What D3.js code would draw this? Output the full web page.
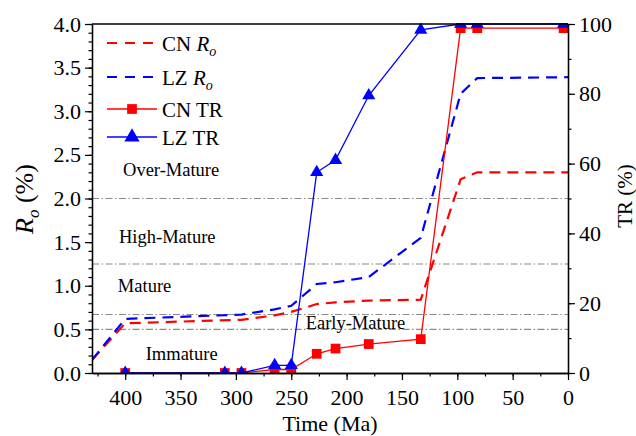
<!DOCTYPE html>
<html>
<head>
<meta charset="utf-8">
<script src="https://cdn.jsdelivr.net/npm/d3@7/dist/d3.min.js"></script>
<style>
  html, body { margin: 0; padding: 0; background: #fff; }
  svg { display: block; }
  text { font-family: "Liberation Serif", "Times New Roman", serif; fill: #000; }
</style>
</head>
<body>
<svg id="chart" width="636" height="436"></svg>
<script>
// Vitrinite reflectance (Ro, %) through time for the two wells
const roTimes = [430, 400, 295, 265, 250, 227, 210, 180, 133, 97, 82, 0];
const cnRo    = [0.15, 0.57, 0.61, 0.66, 0.70, 0.79, 0.81, 0.83, 0.84, 2.22, 2.30, 2.30];
const lzRo    = [0.15, 0.62, 0.67, 0.73, 0.77, 1.02, 1.04, 1.10, 1.55, 3.20, 3.38, 3.39];

// Transformation ratio (TR, %) at the modelled time steps
const trTimes = [400, 310, 295, 265, 250, 227, 210, 180, 133, 97, 82, 4];
const cnTR    = [0, 0, 0, 1, 1, 5.5, 7, 8.3, 9.7, 98.8, 98.8, 98.8];
const lzTR    = [0, 0, 0, 2.2, 2.2, 57.5, 61, 79.5, 98.3, 100, 100, 100];

// Maturity zone boundaries (Ro, %) and zone names with their label anchors (Ma, Ro)
const zoneBounds = [0.5, 0.67, 1.25, 2.0];
const zoneNames  = ["Immature", "Early-Mature", "Mature", "High-Mature", "Over-Mature"];
const zoneLabelAt = [[349, 0.15], [192, 0.50], [382.5, 0.93], [362, 1.49], [358.5, 2.26]];

// Axis ticks
const timeTicks = [400, 350, 300, 250, 200, 150, 100, 50, 0];
const roTicks   = [0, 0.5, 1.0, 1.5, 2.0, 2.5, 3.0, 3.5, 4.0];
const trTicks   = [0, 20, 40, 60, 80, 100];

const svg = d3.select("#chart");
const L = 92, R = 568, T = 24, B = 373;

const x  = d3.scaleLinear().domain([430, 0]).range([L, R]);
const y  = d3.scaleLinear().domain([0, 4]).range([B, T]);
const yT = d3.scaleLinear().domain([0, 100]).range([B, T]);

svg.append("defs").append("clipPath").attr("id", "plotClip")
  .append("rect").attr("x", L).attr("y", T - 1).attr("width", R - L).attr("height", B - T + 1);

// zone boundary lines
svg.append("g").selectAll("line").data(zoneBounds).join("line")
  .attr("x1", L).attr("x2", R)
  .attr("y1", d => y(d)).attr("y2", d => y(d))
  .attr("stroke", "#8a8a8a").attr("stroke-width", 1.1)
  .attr("stroke-dasharray", "7,2.5,1.5,2.5");

// zone labels
svg.append("g").selectAll("text").data(zoneNames).join("text")
  .attr("x", (d, i) => x(zoneLabelAt[i][0]))
  .attr("y", (d, i) => y(zoneLabelAt[i][1]))
  .attr("text-anchor", "middle")
  .attr("font-size", 18.5)
  .text(d => d);

const plot = svg.append("g").attr("clip-path", "url(#plotClip)");

const roLine = (vals) => d3.line().x((d, i) => x(roTimes[i])).y(d => y(d))(vals);
const trLine = (vals) => d3.line().x((d, i) => x(trTimes[i])).y(d => yT(d))(vals);

plot.append("path").attr("d", roLine(cnRo)).attr("fill", "none")
  .attr("stroke", "#ff0000").attr("stroke-width", 2.2).attr("stroke-dasharray", "11,7");
plot.append("path").attr("d", roLine(lzRo)).attr("fill", "none")
  .attr("stroke", "#0000ff").attr("stroke-width", 2.2).attr("stroke-dasharray", "11,7");

plot.append("path").attr("d", trLine(cnTR)).attr("fill", "none")
  .attr("stroke", "#ff0000").attr("stroke-width", 1.3);
const sq = d3.symbol().type(d3.symbolSquare).size(95);
plot.append("g").selectAll("path").data(cnTR).join("path")
  .attr("transform", (d, i) => `translate(${x(trTimes[i])},${yT(d)})`)
  .attr("d", sq).attr("fill", "#ff0000");

plot.append("path").attr("d", trLine(lzTR)).attr("fill", "none")
  .attr("stroke", "#0000ff").attr("stroke-width", 1.3);
const tri = d3.symbol().type(d3.symbolTriangle).size(75);
plot.append("g").selectAll("path").data(lzTR).join("path")
  .attr("transform", (d, i) => `translate(${x(trTimes[i])},${yT(d)})`)
  .attr("d", tri).attr("fill", "#0000ff");

// frame
svg.append("line").attr("x1", L).attr("x2", R).attr("y1", T).attr("y2", T)
  .attr("stroke", "#000").attr("stroke-width", 1.3);

// axes
function styleAxis(g) {
  g.selectAll(".domain").attr("stroke", "#000").attr("stroke-width", 1.3);
  g.selectAll(".tick line").attr("stroke", "#000").attr("stroke-width", 1.2);
  g.selectAll("text").attr("font-family", "Liberation Serif, Times New Roman, serif").attr("fill", "#000");
}

// bottom
svg.append("g").attr("transform", `translate(0,${B})`)
  .call(d3.axisBottom(x).tickValues(d3.range(425, -1, -25)).tickSize(3.5).tickFormat("").tickSizeOuter(0))
  .call(styleAxis);
svg.append("g").attr("transform", `translate(0,${B})`)
  .call(d3.axisBottom(x).tickValues(timeTicks).tickSize(7).tickPadding(9).tickFormat(d3.format("d")).tickSizeOuter(0))
  .call(styleAxis)
  .call(g => g.selectAll("text").attr("font-size", 22));

// left
svg.append("g").attr("transform", `translate(${L},0)`)
  .call(d3.axisLeft(y).tickValues(d3.range(0, 41).map(d => d / 10)).tickSize(3.5).tickFormat("").tickSizeOuter(0))
  .call(styleAxis);
svg.append("g").attr("transform", `translate(${L},0)`)
  .call(d3.axisLeft(y).tickValues(roTicks).tickSize(7).tickPadding(4).tickFormat(d3.format(".1f")).tickSizeOuter(0))
  .call(styleAxis)
  .call(g => g.selectAll("text").attr("font-size", 22));

// right
svg.append("g").attr("transform", `translate(${R},0)`)
  .call(d3.axisRight(yT).tickValues(d3.range(0, 101, 10)).tickSize(3.5).tickFormat("").tickSizeOuter(0))
  .call(styleAxis);
svg.append("g").attr("transform", `translate(${R},0)`)
  .call(d3.axisRight(yT).tickValues(trTicks).tickSize(7).tickPadding(4).tickFormat(d3.format("d")).tickSizeOuter(0))
  .call(styleAxis)
  .call(g => g.selectAll("text").attr("font-size", 22));

// axis titles
svg.append("text").attr("x", (L + R) / 2).attr("y", 431)
  .attr("text-anchor", "middle").attr("font-size", 22).text("Time (Ma)");

const ly = svg.append("text").attr("transform", "translate(33,199) rotate(-90)")
  .attr("text-anchor", "middle").attr("font-size", 26);
ly.append("tspan").attr("font-style", "italic").text("R");
ly.append("tspan").attr("font-style", "italic").attr("font-size", 17).attr("dy", 6).text("o");
ly.append("tspan").attr("dy", -6).text(" (%)");

svg.append("text").attr("transform", "translate(632,196) rotate(-90)")
  .attr("text-anchor", "middle").attr("font-size", 21).text("TR (%)");

// legend
const legendItems = [
  { name: "CN", sub: true,  label: "TR", color: "#ff0000", dashed: true,  marker: null },
  { name: "LZ", sub: true,  label: "TR", color: "#0000ff", dashed: true,  marker: null },
  { name: "CN", sub: false, label: "TR", color: "#ff0000", dashed: false, marker: d3.symbolSquare },
  { name: "LZ", sub: false, label: "TR", color: "#0000ff", dashed: false, marker: d3.symbolTriangle }
];
const legendRows = [43, 77, 109, 137];
const lg = svg.append("g");
legendItems.forEach((it, i) => {
  const yy = legendRows[i];
  lg.append("line").attr("x1", 107).attr("x2", 157).attr("y1", yy).attr("y2", yy)
    .attr("stroke", it.color)
    .attr("stroke-width", it.dashed ? 2.2 : 1.3)
    .attr("stroke-dasharray", it.dashed ? "10,8" : null);
  if (it.marker) {
    lg.append("path").attr("transform", `translate(132,${yy})`)
      .attr("d", d3.symbol().type(it.marker).size(it.marker === d3.symbolSquare ? 95 : 100))
      .attr("fill", it.color);
  }
  const t = lg.append("text").attr("x", 162).attr("y", yy + 7.5).attr("font-size", 21);
  if (it.sub) {
    t.append("tspan").text(it.name + " ");
    t.append("tspan").attr("font-style", "italic").text("R");
    t.append("tspan").attr("font-style", "italic").attr("font-size", 14).attr("dy", 5).text("o");
  } else {
    t.append("tspan").text(it.name + " " + it.label);
  }
});
</script>
</body>
</html>
